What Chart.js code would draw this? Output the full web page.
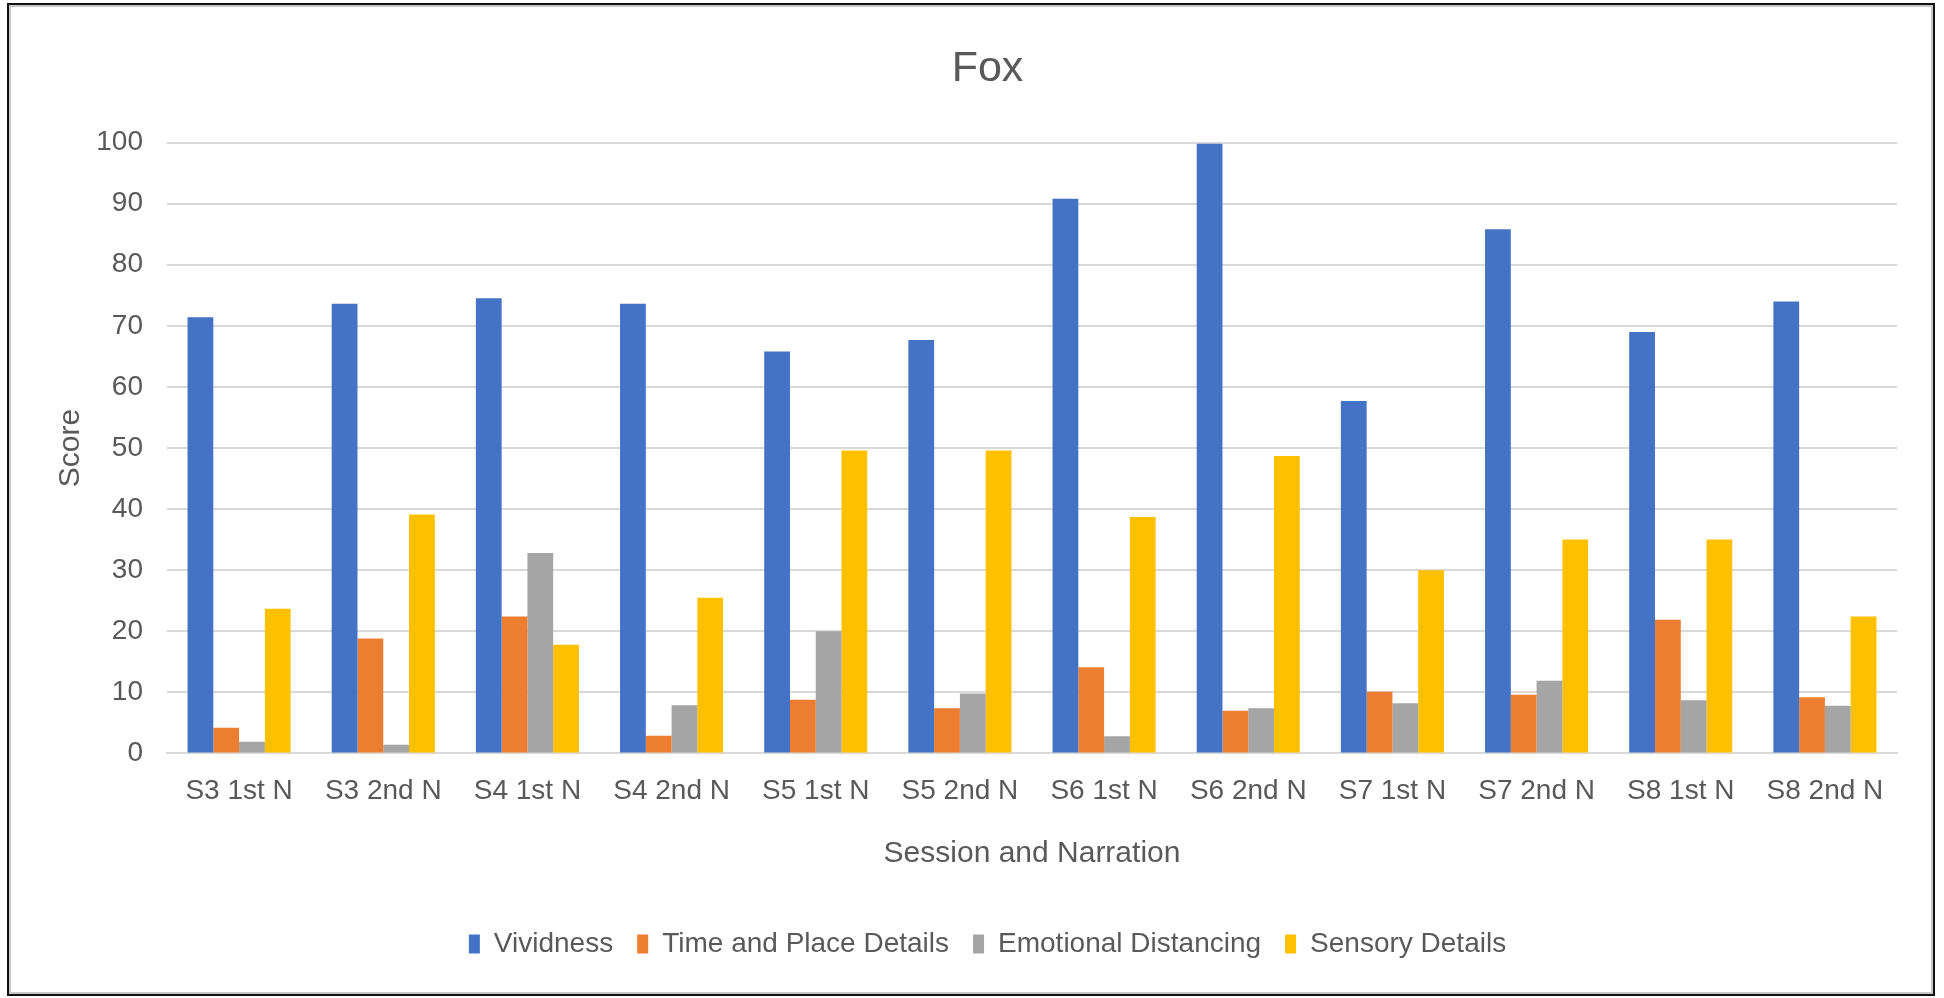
<!DOCTYPE html>
<html>
<head>
<meta charset="utf-8">
<script src="https://cdn.jsdelivr.net/npm/chart.js@4.4.1/dist/chart.umd.min.js"></script>
<style>
  html, body { margin: 0; padding: 0; background: #fff; }
  #wrap { position: relative; width: 1944px; height: 998px; }
  #frame {
    position: absolute; left: 7px; top: 3px; width: 1924px; height: 989px;
    border: 2px solid #111; box-shadow: inset 2px 2px 0 #c8c8c8, inset -2px -2px 0 #c8c8c8;
    pointer-events: none;
  }
</style>
</head>
<body>
<div id="wrap">
  <canvas id="chart" width="1944" height="998"></canvas>
  <div id="frame"></div>
</div>
<script>
const categories = ['S3 1st N', 'S3 2nd N', 'S4 1st N', 'S4 2nd N', 'S5 1st N', 'S5 2nd N',
  'S6 1st N', 'S6 2nd N', 'S7 1st N', 'S7 2nd N', 'S8 1st N', 'S8 2nd N'];
const vividness = [71.4, 73.6, 74.5, 73.6, 65.8, 67.7, 90.8, 99.8, 57.7, 85.8, 69.0, 74.0];
const timePlace = [4.2, 18.8, 22.4, 2.9, 8.8, 7.4, 14.1, 7.0, 10.1, 9.6, 21.9, 9.2];
const emotional = [1.9, 1.4, 32.8, 7.9, 20.0, 9.8, 2.8, 7.4, 8.2, 11.9, 8.7, 7.8];
const sensory = [23.7, 39.1, 17.8, 25.5, 49.6, 49.6, 38.7, 48.7, 30.0, 35.0, 35.0, 22.4];
const yTicks = [0, 10, 20, 30, 40, 50, 60, 70, 80, 90, 100];

const FONT = "'Liberation Sans', Arial, sans-serif";
const TEXT = '#595959';

new Chart(document.getElementById('chart'), {
  type: 'bar',
  data: {
    labels: categories,
    datasets: [
      { label: 'Vividness', data: vividness, backgroundColor: '#4472C4' },
      { label: 'Time and Place Details', data: timePlace, backgroundColor: '#ED7D31' },
      { label: 'Emotional Distancing', data: emotional, backgroundColor: '#A5A5A5' },
      { label: 'Sensory Details', data: sensory, backgroundColor: '#FFC000' },
    ]
  },
  options: {
    responsive: false,
    animation: false,
    datasets: { bar: { categoryPercentage: 0.715, barPercentage: 1.0 } },
    // left padding is wider so the bottom legend centres where the original's does
    layout: { padding: { left: 78, right: 47, top: 43, bottom: 30 } },
    plugins: {
      title: {
        display: true, text: 'Fox', color: TEXT,
        font: { family: FONT, size: 43, weight: 'normal' },
        padding: { top: 0, bottom: 48 }
      },
      legend: {
        position: 'bottom',
        labels: {
          color: TEXT, boxWidth: 11, boxHeight: 19, padding: 24,
          font: { family: FONT, size: 28 }
        }
      },
      tooltip: { enabled: false }
    },
    scales: {
      x: {
        grid: { display: false, drawTicks: false },
        border: { display: true, color: '#d9d9d9', width: 2 },
        ticks: { color: TEXT, padding: 21, maxRotation: 0, autoSkip: false, font: { family: FONT, size: 28 } },
        title: {
          display: true, text: 'Session and Narration', color: TEXT,
          font: { family: FONT, size: 30 }, padding: { top: 7, bottom: 34 }
        }
      },
      y: {
        min: 0, max: 100,
        afterBuildTicks: s => { s.ticks = yTicks.map(v => ({ value: v })); },
        afterFit: s => { s.width = 89; },
        grid: { color: '#d9d9d9', lineWidth: 2, drawTicks: false },
        border: { display: false },
        ticks: { color: TEXT, padding: 24, font: { family: FONT, size: 28 } },
        title: {
          display: true, text: 'Score', color: TEXT,
          font: { family: FONT, size: 30 }, padding: { top: -25, bottom: 0 }
        }
      }
    }
  }
});
</script>
</body>
</html>
